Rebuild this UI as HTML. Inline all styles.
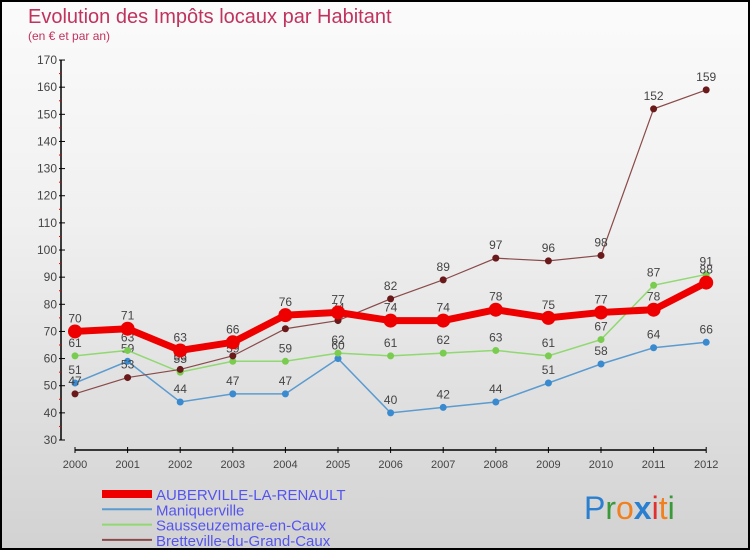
<!DOCTYPE html>
<html><head><meta charset="utf-8"><style>
body{margin:0}
#c{width:746px;height:546px;border:2px solid #000;background:linear-gradient(#fbfbfb,#f0f0f0 40%,#d2d2d2);position:relative;overflow:hidden;font-family:"Liberation Sans",sans-serif}
</style></head><body>
<div id="c">
<svg id="s" width="746" height="546" style="position:absolute;left:0;top:0">
<text x="26" y="21" font-size="20" fill="#c0335e">Evolution des Impôts locaux par Habitant</text>
<text x="26" y="38" font-size="12" fill="#c0335e">(en € et par an)</text>
<g id="axes"></g><g id="series"></g><g id="legend"></g>
<text x="582" y="517" font-size="32"><tspan fill="#2a7fd0">P</tspan><tspan fill="#3a9a3a">r</tspan><tspan fill="#f08020">o</tspan><tspan fill="#2a7fd0" font-weight="bold">x</tspan><tspan fill="#e03030">i</tspan><tspan fill="#f08020">t</tspan><tspan fill="#3a9a3a">i</tspan></text>
</svg>
</div>
<script>
const years=[2000,2001,2002,2003,2004,2005,2006,2007,2008,2009,2010,2011,2012];
const yTicks=[30,40,50,60,70,80,90,100,110,120,130,140,150,160,170];
const aubValues=[70,71,63,66,76,77,74,74,78,75,77,78,88];
const maniqValues=[51,59,44,47,47,60,40,42,44,51,58,64,66];
const saussValues=[61,63,55,59,59,62,61,62,63,61,67,87,91];
const bretValues=[47,53,56,61,71,74,82,89,97,96,98,152,159];
const seriesNames=["AUBERVILLE-LA-RENAULT","Maniquerville","Sausseuzemare-en-Caux","Bretteville-du-Grand-Caux"];
const NS="http://www.w3.org/2000/svg";
const xS=i=>73+i*52.6;
const yS=v=>438-(v-30)*2.714;
function mk(t,a,p){const e=document.createElementNS(NS,t);for(const k in a)e.setAttribute(k,a[k]);p.appendChild(e);return e;}
const ax=document.getElementById('axes');
mk('line',{x1:59,y1:yS(170),x2:59,y2:yS(30),stroke:'#000','stroke-width':1.5},ax);
mk('line',{x1:73,y1:448,x2:704,y2:448,stroke:'#000','stroke-width':1.5},ax);
yTicks.forEach(v=>{mk('line',{x1:57,y1:yS(v),x2:63,y2:yS(v),stroke:'#000'},ax);
 if(v<170)mk('line',{x1:57,y1:yS(v+5),x2:59,y2:yS(v+5),stroke:'#e00'},ax);
 const t=mk('text',{x:55,y:yS(v)+4,'text-anchor':'end','font-size':12,fill:'#444'},ax);
 
 t.textContent=v;});
years.forEach((y,i)=>{mk('line',{x1:xS(i),y1:445,x2:xS(i),y2:451,stroke:'#000'},ax);
 const t=mk('text',{x:xS(i),y:466,'text-anchor':'middle','font-size':11,fill:'#444'},ax);
 
 t.textContent=y;});
const sg=document.getElementById('series');
const defs=[[maniqValues,'#5b9bd0','#3a8ad0',1.5,3.5,'maniquerville'],[saussValues,'#90d870','#7acc50',1.5,3.5,'sausseuzemare'],[bretValues,'#8a4a4a','#6a1a1a',1.2,3.5,'bretteville'],[aubValues,'#ee0000','#ee0000',7,7,'auberville']];
defs.forEach(([vals,lc,pc,w,r,nm])=>{
 const g=mk('g',{},sg);
 
 
 mk('polyline',{points:vals.map((v,i)=>xS(i)+','+yS(v)).join(' '),fill:'none',stroke:lc,'stroke-width':w},g);
 vals.forEach((v,i)=>{const c=mk('circle',{cx:xS(i),cy:yS(v),r:r,fill:pc},g);
  
  
  const t=mk('text',{x:xS(i),y:yS(v)-9,'text-anchor':'middle','font-size':12,fill:'#444'},g);
  
  t.textContent=v;});
});
const lg=document.getElementById('legend');
const lc=[['#ee0000',8],['#5b9bd0',2],['#90d870',2],['#8a4a4a',2]];
seriesNames.forEach((n,i)=>{const y=492+i*15.3;
 const l=mk('line',{x1:100,y1:y,x2:150,y2:y,stroke:lc[i][0],'stroke-width':lc[i][1]},lg);
 
 
 const t=mk('text',{x:154,y:y+6,'font-size':15,fill:'#5555ee'},lg);
 
 t.textContent=n;});
</script>
</body></html>
